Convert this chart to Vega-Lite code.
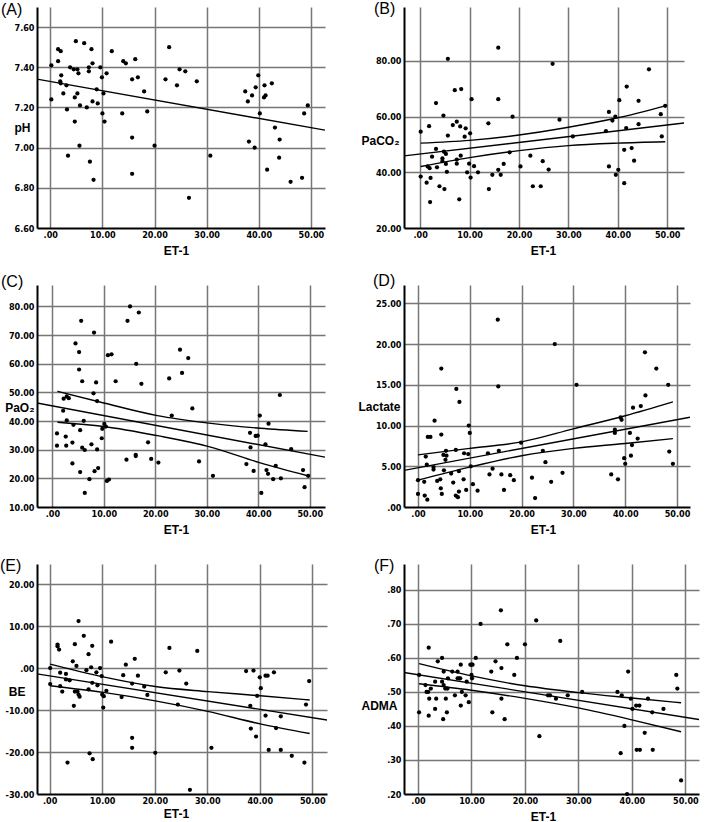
{
  "$schema": "https://vega.github.io/schema/vega-lite/v6.json",
  "padding": {"left": 0, "top": 1, "right": 4, "bottom": 4},
  "background": "white",
  "columns": 2,
  "spacing": {"row": 57, "column": 77},
  "bounds": "flush",
  "align": "each",
  "config": {
    "font": "Liberation Sans",
    "view": {"stroke": null},
    "axis": {
      "grid": true,
      "gridColor": "#767676",
      "gridWidth": 1.5,
      "domainColor": "#000000",
      "domainWidth": 2,
      "ticks": false,
      "labelFont": "Liberation Sans Narrow, DejaVu Sans Condensed, sans-serif",
      "labelFontWeight": "bold",
      "labelFontSize": 9,
      "labelColor": "#000000",
      "labelPadding": 3,
      "titleFont": "Liberation Sans",
      "titleFontWeight": "bold",
      "titleFontSize": 12,
      "titleColor": "#000000"
    },
    "axisX": {"titleX": 139, "titleY": 22, "titleAlign": "center", "titleBaseline": "middle", "labelPadding": 2},
    "axisY": {"titleAngle": 0, "titleAlign": "right", "titleBaseline": "middle"},
    "title": {"anchor": "start", "frame": "group", "fontSize": 16, "fontWeight": "normal", "font": "Liberation Sans", "color": "#000000", "baseline": "alphabetic"}
  },
  "concat": [
    {
      "width": 288, "height": 221,
      "title": {"text": "(A)", "dx": -36, "offset": -11},
      "data": {"values": [
        {"x":0.2,"y":7.41,"s":"pt"},{"x":0.2,"y":7.24,"s":"pt"},{"x":1.5,"y":7.49,"s":"pt"},{"x":1.5,"y":7.43,"s":"pt"},{"x":2.0,"y":7.48,"s":"pt"},{"x":1.9,"y":7.33,"s":"pt"},{"x":2.0,"y":7.32,"s":"pt"},{"x":2.1,"y":7.36,"s":"pt"},{"x":2.5,"y":7.27,"s":"pt"},{"x":3.1,"y":7.31,"s":"pt"},{"x":3.2,"y":7.19,"s":"pt"},{"x":3.4,"y":6.96,"s":"pt"},{"x":3.8,"y":7.40,"s":"pt"},{"x":4.5,"y":7.39,"s":"pt"},{"x":4.7,"y":7.25,"s":"pt"},{"x":4.7,"y":7.13,"s":"pt"},{"x":4.9,"y":7.53,"s":"pt"},{"x":5.2,"y":7.39,"s":"pt"},{"x":5.2,"y":7.27,"s":"pt"},{"x":5.4,"y":7.37,"s":"pt"},{"x":5.7,"y":7.21,"s":"pt"},{"x":5.6,"y":7.01,"s":"pt"},{"x":6.5,"y":7.52,"s":"pt"},{"x":7.0,"y":7.20,"s":"pt"},{"x":7.4,"y":7.38,"s":"pt"},{"x":7.4,"y":7.40,"s":"pt"},{"x":7.6,"y":6.93,"s":"pt"},{"x":7.9,"y":7.49,"s":"pt"},{"x":8.1,"y":7.42,"s":"pt"},{"x":8.1,"y":7.23,"s":"pt"},{"x":8.3,"y":6.84,"s":"pt"},{"x":8.9,"y":7.29,"s":"pt"},{"x":9.1,"y":7.22,"s":"pt"},{"x":9.6,"y":7.40,"s":"pt"},{"x":9.9,"y":7.35,"s":"pt"},{"x":10.0,"y":7.17,"s":"pt"},{"x":10.2,"y":7.27,"s":"pt"},{"x":10.4,"y":7.13,"s":"pt"},{"x":10.8,"y":7.37,"s":"pt"},{"x":11.8,"y":7.48,"s":"pt"},{"x":13.8,"y":7.17,"s":"pt"},{"x":14.0,"y":7.43,"s":"pt"},{"x":14.5,"y":7.42,"s":"pt"},{"x":15.7,"y":7.34,"s":"pt"},{"x":15.7,"y":7.05,"s":"pt"},{"x":15.7,"y":6.87,"s":"pt"},{"x":16.3,"y":7.44,"s":"pt"},{"x":16.8,"y":7.35,"s":"pt"},{"x":18.0,"y":7.28,"s":"pt"},{"x":18.6,"y":7.18,"s":"pt"},{"x":20.0,"y":7.01,"s":"pt"},{"x":22.1,"y":7.34,"s":"pt"},{"x":22.8,"y":7.50,"s":"pt"},{"x":24.3,"y":7.31,"s":"pt"},{"x":24.8,"y":7.39,"s":"pt"},{"x":25.9,"y":7.38,"s":"pt"},{"x":26.6,"y":6.75,"s":"pt"},{"x":28.1,"y":7.33,"s":"pt"},{"x":30.7,"y":6.96,"s":"pt"},{"x":37.4,"y":7.28,"s":"pt"},{"x":37.9,"y":7.23,"s":"pt"},{"x":38.1,"y":7.03,"s":"pt"},{"x":38.7,"y":7.26,"s":"pt"},{"x":39.2,"y":7.00,"s":"pt"},{"x":39.4,"y":7.30,"s":"pt"},{"x":39.9,"y":7.36,"s":"pt"},{"x":40.2,"y":7.17,"s":"pt"},{"x":41.1,"y":7.31,"s":"pt"},{"x":41.0,"y":7.25,"s":"pt"},{"x":41.3,"y":7.26,"s":"pt"},{"x":41.6,"y":6.89,"s":"pt"},{"x":42.5,"y":7.32,"s":"pt"},{"x":43.1,"y":7.10,"s":"pt"},{"x":43.9,"y":6.95,"s":"pt"},{"x":44.0,"y":7.04,"s":"pt"},{"x":46.1,"y":6.83,"s":"pt"},{"x":48.3,"y":6.85,"s":"pt"},{"x":48.7,"y":7.17,"s":"pt"},{"x":49.4,"y":7.21,"s":"pt"},
        {"x":-2.55,"y":7.341,"s":"fit"},{"x":52.7,"y":7.087,"s":"fit"}
      ]},
      "encoding": {
        "x": {"field": "x", "type": "quantitative", "scale": {"domain": [-2.55, 52.7], "nice": false, "zero": false},
              "axis": {"title": "ET-1", "values": [0, 10, 20, 30, 40, 50], "labelExpr": "datum.value == 0 ? '.00' : format(datum.value, '.2f')"}},
        "y": {"field": "y", "type": "quantitative", "scale": {"domain": [6.6, 7.7], "nice": false, "zero": false},
              "axis": {"title": "pH", "titleX": -7, "titleY": 120, "values": [6.6, 6.8, 7.0, 7.2, 7.4, 7.6], "format": ".2f",
                       "gridOpacity": {"condition": {"test": "datum.value < 6.61", "value": 0}, "value": 1}}}
      },
      "layer": [
        {"transform": [{"filter": "datum.s == 'pt'"}], "mark": {"type": "circle", "size": 18, "color": "#000000", "opacity": 1}},
        {"transform": [{"filter": "datum.s != 'pt'"}], "mark": {"type": "line", "color": "#000000", "strokeWidth": 1.4, "interpolate": "monotone", "clip": true}, "encoding": {"detail": {"field": "s"}}}
      ]
    },
    {
      "width": 280, "height": 221,
      "title": {"text": "(B)", "dx": -30, "offset": -10},
      "data": {"values": [
        {"x":0.1,"y":54.6,"s":"pt"},{"x":0.1,"y":38.5,"s":"pt"},{"x":1.3,"y":36.3,"s":"pt"},{"x":1.5,"y":42.1,"s":"pt"},{"x":1.8,"y":56.6,"s":"pt"},{"x":1.9,"y":41.5,"s":"pt"},{"x":2.0,"y":29.3,"s":"pt"},{"x":2.1,"y":38.0,"s":"pt"},{"x":2.4,"y":45.6,"s":"pt"},{"x":3.2,"y":64.9,"s":"pt"},{"x":3.2,"y":48.4,"s":"pt"},{"x":3.4,"y":41.8,"s":"pt"},{"x":3.9,"y":35.0,"s":"pt"},{"x":4.7,"y":60.4,"s":"pt"},{"x":4.5,"y":45.0,"s":"pt"},{"x":4.5,"y":44.0,"s":"pt"},{"x":4.8,"y":47.4,"s":"pt"},{"x":4.9,"y":34.0,"s":"pt"},{"x":5.2,"y":46.6,"s":"pt"},{"x":5.2,"y":43.0,"s":"pt"},{"x":5.4,"y":40.2,"s":"pt"},{"x":5.6,"y":53.2,"s":"pt"},{"x":5.6,"y":80.8,"s":"pt"},{"x":6.6,"y":57.0,"s":"pt"},{"x":7.0,"y":69.5,"s":"pt"},{"x":7.4,"y":58.2,"s":"pt"},{"x":7.4,"y":43.1,"s":"pt"},{"x":7.4,"y":44.6,"s":"pt"},{"x":7.9,"y":30.3,"s":"pt"},{"x":8.1,"y":56.5,"s":"pt"},{"x":8.2,"y":46.0,"s":"pt"},{"x":8.3,"y":69.9,"s":"pt"},{"x":9.0,"y":52.8,"s":"pt"},{"x":9.2,"y":55.8,"s":"pt"},{"x":9.5,"y":40.0,"s":"pt"},{"x":9.9,"y":43.1,"s":"pt"},{"x":10.1,"y":54.0,"s":"pt"},{"x":10.2,"y":38.1,"s":"pt"},{"x":10.4,"y":66.3,"s":"pt"},{"x":10.9,"y":42.2,"s":"pt"},{"x":11.7,"y":40.0,"s":"pt"},{"x":13.8,"y":57.6,"s":"pt"},{"x":13.9,"y":34.0,"s":"pt"},{"x":14.6,"y":39.1,"s":"pt"},{"x":15.8,"y":40.9,"s":"pt"},{"x":15.8,"y":66.3,"s":"pt"},{"x":15.8,"y":84.8,"s":"pt"},{"x":16.3,"y":39.1,"s":"pt"},{"x":16.9,"y":43.0,"s":"pt"},{"x":18.1,"y":47.2,"s":"pt"},{"x":18.7,"y":60.0,"s":"pt"},{"x":20.3,"y":42.1,"s":"pt"},{"x":22.3,"y":46.0,"s":"pt"},{"x":22.8,"y":35.0,"s":"pt"},{"x":24.4,"y":35.0,"s":"pt"},{"x":24.8,"y":44.0,"s":"pt"},{"x":26.0,"y":41.0,"s":"pt"},{"x":26.8,"y":79.0,"s":"pt"},{"x":28.2,"y":58.9,"s":"pt"},{"x":30.9,"y":52.9,"s":"pt"},{"x":37.6,"y":54.8,"s":"pt"},{"x":38.2,"y":61.7,"s":"pt"},{"x":38.2,"y":42.1,"s":"pt"},{"x":38.9,"y":58.6,"s":"pt"},{"x":39.5,"y":60.0,"s":"pt"},{"x":39.6,"y":39.1,"s":"pt"},{"x":40.1,"y":40.9,"s":"pt"},{"x":40.3,"y":65.9,"s":"pt"},{"x":41.3,"y":48.1,"s":"pt"},{"x":41.3,"y":36.1,"s":"pt"},{"x":41.7,"y":55.9,"s":"pt"},{"x":41.8,"y":70.8,"s":"pt"},{"x":42.8,"y":48.7,"s":"pt"},{"x":43.3,"y":44.2,"s":"pt"},{"x":44.2,"y":57.3,"s":"pt"},{"x":44.2,"y":65.7,"s":"pt"},{"x":46.3,"y":77.0,"s":"pt"},{"x":48.7,"y":60.9,"s":"pt"},{"x":48.9,"y":52.9,"s":"pt"},{"x":49.6,"y":63.9,"s":"pt"},
        {"x":-3.28,"y":45.9,"s":"fit"},{"x":53.4,"y":57.7,"s":"fit"},
        {"x":0.1,"y":50.5,"s":"hi"},{"x":10,"y":51.5,"s":"hi"},{"x":20,"y":53.4,"s":"hi"},{"x":30,"y":56.2,"s":"hi"},{"x":40,"y":59.6,"s":"hi"},{"x":49.6,"y":63.9,"s":"hi"},
        {"x":0.1,"y":42.1,"s":"lo"},{"x":10,"y":45.3,"s":"lo"},{"x":20,"y":47.8,"s":"lo"},{"x":30,"y":49.6,"s":"lo"},{"x":40,"y":50.5,"s":"lo"},{"x":49.6,"y":51.0,"s":"lo"}
      ]},
      "encoding": {
        "x": {"field": "x", "type": "quantitative", "scale": {"domain": [-3.28, 53.4], "nice": false, "zero": false},
              "axis": {"title": "ET-1", "values": [0, 10, 20, 30, 40, 50], "labelExpr": "datum.value == 0 ? '.00' : format(datum.value, '.2f')"}},
        "y": {"field": "y", "type": "quantitative", "scale": {"domain": [20, 99.4], "nice": false, "zero": false},
              "axis": {"title": "PaCO₂", "titleX": -5, "titleY": 133, "values": [20, 40, 60, 80], "format": ".2f",
                       "gridOpacity": {"condition": {"test": "datum.value < 20.1", "value": 0}, "value": 1}}}
      },
      "layer": [
        {"transform": [{"filter": "datum.s == 'pt'"}], "mark": {"type": "circle", "size": 18, "color": "#000000", "opacity": 1}},
        {"transform": [{"filter": "datum.s != 'pt'"}], "mark": {"type": "line", "color": "#000000", "strokeWidth": 1.4, "interpolate": "monotone", "clip": true}, "encoding": {"detail": {"field": "s"}}}
      ]
    },
    {
      "width": 288, "height": 222,
      "title": {"text": "(C)", "dx": -36, "offset": -5},
      "data": {"values": [
        {"x":0.9,"y":35.7,"s":"pt"},{"x":0.9,"y":31.4,"s":"pt"},{"x":2.1,"y":43.6,"s":"pt"},{"x":2.2,"y":47.8,"s":"pt"},{"x":2.6,"y":34.6,"s":"pt"},{"x":2.7,"y":31.4,"s":"pt"},{"x":2.8,"y":48.6,"s":"pt"},{"x":2.8,"y":40.2,"s":"pt"},{"x":3.2,"y":48.0,"s":"pt"},{"x":3.9,"y":32.5,"s":"pt"},{"x":3.9,"y":25.2,"s":"pt"},{"x":4.1,"y":38.7,"s":"pt"},{"x":4.5,"y":67.1,"s":"pt"},{"x":5.2,"y":64.1,"s":"pt"},{"x":5.2,"y":58.0,"s":"pt"},{"x":5.4,"y":36.8,"s":"pt"},{"x":5.4,"y":22.2,"s":"pt"},{"x":5.6,"y":75.0,"s":"pt"},{"x":5.8,"y":53.9,"s":"pt"},{"x":5.8,"y":30.7,"s":"pt"},{"x":6.1,"y":40.1,"s":"pt"},{"x":6.3,"y":29.9,"s":"pt"},{"x":6.3,"y":14.9,"s":"pt"},{"x":7.2,"y":19.7,"s":"pt"},{"x":7.6,"y":31.9,"s":"pt"},{"x":8.0,"y":49.7,"s":"pt"},{"x":8.1,"y":70.9,"s":"pt"},{"x":8.2,"y":22.5,"s":"pt"},{"x":8.5,"y":53.5,"s":"pt"},{"x":8.7,"y":47.0,"s":"pt"},{"x":8.7,"y":30.1,"s":"pt"},{"x":8.9,"y":23.6,"s":"pt"},{"x":9.6,"y":34.0,"s":"pt"},{"x":9.7,"y":37.3,"s":"pt"},{"x":10.1,"y":39.0,"s":"pt"},{"x":10.4,"y":38.1,"s":"pt"},{"x":10.6,"y":19.1,"s":"pt"},{"x":10.8,"y":63.0,"s":"pt"},{"x":11.0,"y":19.6,"s":"pt"},{"x":11.5,"y":63.3,"s":"pt"},{"x":12.3,"y":53.9,"s":"pt"},{"x":14.4,"y":26.5,"s":"pt"},{"x":14.6,"y":75.0,"s":"pt"},{"x":15.1,"y":80.0,"s":"pt"},{"x":16.3,"y":60.0,"s":"pt"},{"x":16.2,"y":28.2,"s":"pt"},{"x":16.2,"y":27.8,"s":"pt"},{"x":16.8,"y":77.9,"s":"pt"},{"x":17.3,"y":53.0,"s":"pt"},{"x":18.6,"y":32.6,"s":"pt"},{"x":19.2,"y":26.8,"s":"pt"},{"x":20.6,"y":25.5,"s":"pt"},{"x":22.7,"y":54.9,"s":"pt"},{"x":23.2,"y":41.9,"s":"pt"},{"x":24.8,"y":64.9,"s":"pt"},{"x":25.2,"y":56.8,"s":"pt"},{"x":26.4,"y":62.0,"s":"pt"},{"x":27.2,"y":44.4,"s":"pt"},{"x":28.5,"y":25.9,"s":"pt"},{"x":31.2,"y":20.9,"s":"pt"},{"x":37.7,"y":25.0,"s":"pt"},{"x":38.4,"y":35.9,"s":"pt"},{"x":38.5,"y":30.8,"s":"pt"},{"x":39.1,"y":22.6,"s":"pt"},{"x":39.5,"y":34.8,"s":"pt"},{"x":39.9,"y":34.9,"s":"pt"},{"x":40.3,"y":41.9,"s":"pt"},{"x":40.6,"y":14.9,"s":"pt"},{"x":41.4,"y":31.9,"s":"pt"},{"x":41.6,"y":22.9,"s":"pt"},{"x":41.9,"y":21.6,"s":"pt"},{"x":42.0,"y":39.1,"s":"pt"},{"x":42.9,"y":19.7,"s":"pt"},{"x":43.4,"y":24.4,"s":"pt"},{"x":44.2,"y":49.1,"s":"pt"},{"x":44.4,"y":20.0,"s":"pt"},{"x":46.4,"y":30.2,"s":"pt"},{"x":48.7,"y":22.9,"s":"pt"},{"x":49.0,"y":16.9,"s":"pt"},{"x":49.7,"y":20.9,"s":"pt"},
        {"x":-2.98,"y":46.3,"s":"fit"},{"x":52.97,"y":27.4,"s":"fit"},
        {"x":1.0,"y":50.4,"s":"hi"},{"x":10,"y":46.3,"s":"hi"},{"x":20.4,"y":41.9,"s":"hi"},{"x":30.4,"y":39.3,"s":"hi"},{"x":40.4,"y":37.5,"s":"hi"},{"x":49.6,"y":36.4,"s":"hi"},
        {"x":1.0,"y":39.6,"s":"lo"},{"x":10,"y":38.1,"s":"lo"},{"x":20.4,"y":34.9,"s":"lo"},{"x":30.4,"y":31.1,"s":"lo"},{"x":40.4,"y":25.4,"s":"lo"},{"x":49.6,"y":20.9,"s":"lo"}
      ]},
      "encoding": {
        "x": {"field": "x", "type": "quantitative", "scale": {"domain": [-2.98, 52.97], "nice": false, "zero": false},
              "axis": {"title": "ET-1", "values": [0, 10, 20, 30, 40, 50], "labelExpr": "datum.value == 0 ? '.00' : format(datum.value, '.2f')"}},
        "y": {"field": "y", "type": "quantitative", "scale": {"domain": [10, 87.5], "nice": false, "zero": false},
              "axis": {"title": "PaO₂", "titleX": -3, "titleY": 122, "values": [10, 20, 30, 40, 50, 60, 70, 80], "format": ".2f",
                       "gridOpacity": {"condition": {"test": "datum.value < 10.1", "value": 0}, "value": 1}}}
      },
      "layer": [
        {"transform": [{"filter": "datum.s == 'pt'"}], "mark": {"type": "circle", "size": 18, "color": "#000000", "opacity": 1}},
        {"transform": [{"filter": "datum.s != 'pt'"}], "mark": {"type": "line", "color": "#000000", "strokeWidth": 1.4, "interpolate": "monotone", "clip": true}, "encoding": {"detail": {"field": "s"}}}
      ]
    },
    {
      "width": 286, "height": 222,
      "title": {"text": "(D)", "dx": -31, "offset": -4},
      "data": {"values": [
        {"x":0.0,"y":3.3,"s":"pt"},{"x":0.0,"y":1.6,"s":"pt"},{"x":1.2,"y":3.1,"s":"pt"},{"x":1.3,"y":1.4,"s":"pt"},{"x":1.5,"y":6.2,"s":"pt"},{"x":1.7,"y":5.2,"s":"pt"},{"x":1.8,"y":0.9,"s":"pt"},{"x":1.9,"y":8.6,"s":"pt"},{"x":2.4,"y":8.6,"s":"pt"},{"x":3.0,"y":4.9,"s":"pt"},{"x":3.0,"y":4.6,"s":"pt"},{"x":3.2,"y":10.6,"s":"pt"},{"x":3.7,"y":3.2,"s":"pt"},{"x":4.3,"y":3.4,"s":"pt"},{"x":4.4,"y":2.3,"s":"pt"},{"x":4.5,"y":8.9,"s":"pt"},{"x":4.5,"y":17.0,"s":"pt"},{"x":4.6,"y":1.6,"s":"pt"},{"x":5.0,"y":4.5,"s":"pt"},{"x":4.9,"y":6.4,"s":"pt"},{"x":5.3,"y":5.8,"s":"pt"},{"x":5.4,"y":6.9,"s":"pt"},{"x":5.5,"y":6.3,"s":"pt"},{"x":6.4,"y":4.1,"s":"pt"},{"x":6.8,"y":3.0,"s":"pt"},{"x":7.3,"y":7.0,"s":"pt"},{"x":7.3,"y":1.4,"s":"pt"},{"x":7.4,"y":14.5,"s":"pt"},{"x":7.7,"y":1.2,"s":"pt"},{"x":7.9,"y":1.9,"s":"pt"},{"x":7.9,"y":4.4,"s":"pt"},{"x":8.0,"y":12.9,"s":"pt"},{"x":8.8,"y":3.4,"s":"pt"},{"x":8.9,"y":6.6,"s":"pt"},{"x":9.3,"y":2.1,"s":"pt"},{"x":9.7,"y":6.5,"s":"pt"},{"x":9.8,"y":10.0,"s":"pt"},{"x":10.0,"y":9.1,"s":"pt"},{"x":10.2,"y":5.0,"s":"pt"},{"x":10.6,"y":2.8,"s":"pt"},{"x":11.5,"y":2.0,"s":"pt"},{"x":13.5,"y":6.6,"s":"pt"},{"x":13.8,"y":4.0,"s":"pt"},{"x":14.4,"y":4.7,"s":"pt"},{"x":15.4,"y":23.0,"s":"pt"},{"x":15.5,"y":14.8,"s":"pt"},{"x":15.6,"y":6.9,"s":"pt"},{"x":16.1,"y":4.0,"s":"pt"},{"x":16.6,"y":2.1,"s":"pt"},{"x":17.8,"y":3.9,"s":"pt"},{"x":18.5,"y":3.3,"s":"pt"},{"x":19.9,"y":7.9,"s":"pt"},{"x":22.0,"y":3.6,"s":"pt"},{"x":22.6,"y":1.1,"s":"pt"},{"x":24.1,"y":6.9,"s":"pt"},{"x":24.6,"y":5.5,"s":"pt"},{"x":25.7,"y":3.1,"s":"pt"},{"x":26.4,"y":20.0,"s":"pt"},{"x":27.9,"y":4.2,"s":"pt"},{"x":30.6,"y":15.0,"s":"pt"},{"x":37.3,"y":4.0,"s":"pt"},{"x":38.0,"y":9.5,"s":"pt"},{"x":38.0,"y":9.1,"s":"pt"},{"x":38.6,"y":3.4,"s":"pt"},{"x":39.1,"y":11.0,"s":"pt"},{"x":39.3,"y":10.7,"s":"pt"},{"x":39.8,"y":6.0,"s":"pt"},{"x":40.0,"y":5.3,"s":"pt"},{"x":40.9,"y":9.1,"s":"pt"},{"x":41.1,"y":6.3,"s":"pt"},{"x":41.3,"y":7.6,"s":"pt"},{"x":41.5,"y":12.2,"s":"pt"},{"x":42.4,"y":8.4,"s":"pt"},{"x":43.0,"y":12.4,"s":"pt"},{"x":43.8,"y":19.0,"s":"pt"},{"x":43.9,"y":13.7,"s":"pt"},{"x":46.0,"y":17.0,"s":"pt"},{"x":48.3,"y":15.0,"s":"pt"},{"x":48.5,"y":6.8,"s":"pt"},{"x":49.2,"y":5.3,"s":"pt"},
        {"x":-2.7,"y":4.5,"s":"fit"},{"x":52.5,"y":11.03,"s":"fit"},
        {"x":0,"y":6.4,"s":"hi"},{"x":10,"y":7.2,"s":"hi"},{"x":20,"y":8.0,"s":"hi"},{"x":30,"y":9.6,"s":"hi"},{"x":40,"y":11.2,"s":"hi"},{"x":49.2,"y":12.9,"s":"hi"},
        {"x":0,"y":3.3,"s":"lo"},{"x":10,"y":4.9,"s":"lo"},{"x":20,"y":6.3,"s":"lo"},{"x":30,"y":7.2,"s":"lo"},{"x":40,"y":7.8,"s":"lo"},{"x":49.2,"y":8.4,"s":"lo"}
      ]},
      "encoding": {
        "x": {"field": "x", "type": "quantitative", "scale": {"domain": [-2.7, 52.5], "nice": false, "zero": false},
              "axis": {"title": "ET-1", "values": [0, 10, 20, 30, 40, 50], "labelExpr": "datum.value == 0 ? '.00' : format(datum.value, '.2f')"}},
        "y": {"field": "y", "type": "quantitative", "scale": {"domain": [0, 27.26], "nice": false, "zero": false},
              "axis": {"title": "Lactate", "titleX": -4, "titleY": 121, "values": [0, 5, 10, 15, 20, 25], "labelExpr": "datum.value == 0 ? '.00' : format(datum.value, '.2f')",
                       "gridOpacity": {"condition": {"test": "datum.value < 0.1", "value": 0}, "value": 1}}}
      },
      "layer": [
        {"transform": [{"filter": "datum.s == 'pt'"}], "mark": {"type": "circle", "size": 18, "color": "#000000", "opacity": 1}},
        {"transform": [{"filter": "datum.s != 'pt'"}], "mark": {"type": "line", "color": "#000000", "strokeWidth": 1.4, "interpolate": "monotone", "clip": true}, "encoding": {"detail": {"field": "s"}}}
      ]
    },
    {
      "width": 290, "height": 230,
      "title": {"text": "(E)", "dx": -37, "offset": -10},
      "data": {"values": [
        {"x":0.1,"y":0.0,"s":"pt"},{"x":0.1,"y":-3.8,"s":"pt"},{"x":1.5,"y":5.6,"s":"pt"},{"x":1.5,"y":5.2,"s":"pt"},{"x":1.8,"y":4.4,"s":"pt"},{"x":2.0,"y":-1.1,"s":"pt"},{"x":2.0,"y":-4.3,"s":"pt"},{"x":2.4,"y":-5.6,"s":"pt"},{"x":3.1,"y":-1.4,"s":"pt"},{"x":3.1,"y":-2.7,"s":"pt"},{"x":3.4,"y":-22.5,"s":"pt"},{"x":3.8,"y":-2.9,"s":"pt"},{"x":4.4,"y":1.6,"s":"pt"},{"x":4.6,"y":-9.0,"s":"pt"},{"x":4.8,"y":5.7,"s":"pt"},{"x":4.8,"y":-5.6,"s":"pt"},{"x":5.1,"y":0.5,"s":"pt"},{"x":5.3,"y":-5.6,"s":"pt"},{"x":5.5,"y":11.2,"s":"pt"},{"x":5.5,"y":-6.3,"s":"pt"},{"x":5.7,"y":-6.8,"s":"pt"},{"x":6.5,"y":7.7,"s":"pt"},{"x":7.0,"y":-0.5,"s":"pt"},{"x":7.4,"y":3.3,"s":"pt"},{"x":7.4,"y":-5.1,"s":"pt"},{"x":7.6,"y":-20.3,"s":"pt"},{"x":7.9,"y":0.2,"s":"pt"},{"x":8.1,"y":5.3,"s":"pt"},{"x":8.1,"y":-3.5,"s":"pt"},{"x":8.2,"y":-21.7,"s":"pt"},{"x":8.9,"y":-1.0,"s":"pt"},{"x":9.1,"y":-4.1,"s":"pt"},{"x":9.6,"y":0.0,"s":"pt"},{"x":9.9,"y":-1.9,"s":"pt"},{"x":10.0,"y":-6.3,"s":"pt"},{"x":10.2,"y":-9.4,"s":"pt"},{"x":10.3,"y":-6.7,"s":"pt"},{"x":10.8,"y":-5.4,"s":"pt"},{"x":11.7,"y":6.3,"s":"pt"},{"x":13.7,"y":-6.9,"s":"pt"},{"x":14.0,"y":-1.7,"s":"pt"},{"x":14.5,"y":0.8,"s":"pt"},{"x":15.7,"y":-3.7,"s":"pt"},{"x":15.7,"y":-16.6,"s":"pt"},{"x":15.7,"y":-19.0,"s":"pt"},{"x":16.2,"y":2.2,"s":"pt"},{"x":16.8,"y":-1.8,"s":"pt"},{"x":18.0,"y":-4.4,"s":"pt"},{"x":18.6,"y":-6.4,"s":"pt"},{"x":20.1,"y":-20.2,"s":"pt"},{"x":22.1,"y":-1.0,"s":"pt"},{"x":22.8,"y":4.8,"s":"pt"},{"x":24.4,"y":-8.7,"s":"pt"},{"x":24.7,"y":-0.6,"s":"pt"},{"x":26.0,"y":-3.7,"s":"pt"},{"x":26.7,"y":-29.0,"s":"pt"},{"x":28.1,"y":4.1,"s":"pt"},{"x":30.8,"y":-19.0,"s":"pt"},{"x":37.4,"y":-0.7,"s":"pt"},{"x":38.2,"y":-9.0,"s":"pt"},{"x":38.3,"y":-14.4,"s":"pt"},{"x":38.8,"y":-0.6,"s":"pt"},{"x":39.3,"y":-16.3,"s":"pt"},{"x":39.5,"y":-6.6,"s":"pt"},{"x":40.0,"y":-2.2,"s":"pt"},{"x":40.2,"y":-4.8,"s":"pt"},{"x":41.1,"y":-1.8,"s":"pt"},{"x":41.1,"y":-11.3,"s":"pt"},{"x":41.5,"y":-1.8,"s":"pt"},{"x":41.7,"y":-19.5,"s":"pt"},{"x":42.7,"y":-1.0,"s":"pt"},{"x":43.1,"y":-14.3,"s":"pt"},{"x":44.0,"y":-11.5,"s":"pt"},{"x":44.0,"y":-19.5,"s":"pt"},{"x":46.1,"y":-20.9,"s":"pt"},{"x":48.5,"y":-22.5,"s":"pt"},{"x":48.8,"y":-8.7,"s":"pt"},{"x":49.4,"y":-3.1,"s":"pt"},
        {"x":-2.41,"y":-1.37,"s":"fit"},{"x":52.8,"y":-12.38,"s":"fit"},
        {"x":0.1,"y":0.95,"s":"hi"},{"x":10.2,"y":-2.1,"s":"hi"},{"x":20.1,"y":-4.4,"s":"hi"},{"x":30.1,"y":-5.6,"s":"hi"},{"x":40.1,"y":-6.6,"s":"hi"},{"x":49.5,"y":-7.6,"s":"hi"},
        {"x":0.1,"y":-4.2,"s":"lo"},{"x":10.2,"y":-5.8,"s":"lo"},{"x":20.1,"y":-7.8,"s":"lo"},{"x":30.1,"y":-10.3,"s":"lo"},{"x":40.1,"y":-13.3,"s":"lo"},{"x":49.5,"y":-15.6,"s":"lo"}
      ]},
      "encoding": {
        "x": {"field": "x", "type": "quantitative", "scale": {"domain": [-2.41, 52.8], "nice": false, "zero": false},
              "axis": {"title": "ET-1", "titleY": 19, "values": [0, 10, 20, 30, 40, 50], "labelExpr": "datum.value == 0 ? '.00' : format(datum.value, '.2f')"}},
        "y": {"field": "y", "type": "quantitative", "scale": {"domain": [-30, 24.8], "nice": false, "zero": false},
              "axis": {"title": "BE", "titleX": -12, "titleY": 127, "values": [-30, -20, -10, 0, 10, 20], "labelExpr": "datum.value == 0 ? '.00' : replace(format(datum.value, '.2f'), '−', '-')",
                       "gridOpacity": {"condition": {"test": "datum.value < -29.9", "value": 0}, "value": 1}}}
      },
      "layer": [
        {"transform": [{"filter": "datum.s == 'pt'"}], "mark": {"type": "circle", "size": 18, "color": "#000000", "opacity": 1}},
        {"transform": [{"filter": "datum.s != 'pt'"}], "mark": {"type": "line", "color": "#000000", "strokeWidth": 1.4, "interpolate": "monotone", "clip": true}, "encoding": {"detail": {"field": "s"}}}
      ]
    },
    {
      "width": 295, "height": 230,
      "title": {"text": "(F)", "dx": -30, "offset": -10},
      "data": {"values": [
        {"x":0.2,"y":0.55,"s":"pt"},{"x":0.2,"y":0.44,"s":"pt"},{"x":1.4,"y":0.52,"s":"pt"},{"x":1.6,"y":0.50,"s":"pt"},{"x":1.9,"y":0.50,"s":"pt"},{"x":2.0,"y":0.63,"s":"pt"},{"x":2.0,"y":0.43,"s":"pt"},{"x":2.1,"y":0.48,"s":"pt"},{"x":2.4,"y":0.51,"s":"pt"},{"x":3.2,"y":0.53,"s":"pt"},{"x":3.2,"y":0.45,"s":"pt"},{"x":3.4,"y":0.48,"s":"pt"},{"x":3.7,"y":0.59,"s":"pt"},{"x":4.5,"y":0.60,"s":"pt"},{"x":4.5,"y":0.53,"s":"pt"},{"x":4.7,"y":0.42,"s":"pt"},{"x":4.8,"y":0.56,"s":"pt"},{"x":4.8,"y":0.52,"s":"pt"},{"x":5.1,"y":0.51,"s":"pt"},{"x":5.2,"y":0.48,"s":"pt"},{"x":5.5,"y":0.51,"s":"pt"},{"x":5.4,"y":0.44,"s":"pt"},{"x":5.6,"y":0.54,"s":"pt"},{"x":6.4,"y":0.56,"s":"pt"},{"x":6.9,"y":0.49,"s":"pt"},{"x":7.4,"y":0.56,"s":"pt"},{"x":7.4,"y":0.54,"s":"pt"},{"x":7.7,"y":0.54,"s":"pt"},{"x":7.9,"y":0.54,"s":"pt"},{"x":8.0,"y":0.46,"s":"pt"},{"x":8.0,"y":0.58,"s":"pt"},{"x":8.2,"y":0.50,"s":"pt"},{"x":8.9,"y":0.49,"s":"pt"},{"x":9.1,"y":0.53,"s":"pt"},{"x":9.5,"y":0.47,"s":"pt"},{"x":9.8,"y":0.58,"s":"pt"},{"x":10.0,"y":0.58,"s":"pt"},{"x":10.0,"y":0.55,"s":"pt"},{"x":10.1,"y":0.54,"s":"pt"},{"x":10.2,"y":0.58,"s":"pt"},{"x":10.8,"y":0.60,"s":"pt"},{"x":11.7,"y":0.70,"s":"pt"},{"x":13.7,"y":0.56,"s":"pt"},{"x":13.9,"y":0.44,"s":"pt"},{"x":14.5,"y":0.59,"s":"pt"},{"x":15.5,"y":0.74,"s":"pt"},{"x":15.6,"y":0.57,"s":"pt"},{"x":15.6,"y":0.48,"s":"pt"},{"x":16.2,"y":0.42,"s":"pt"},{"x":16.7,"y":0.64,"s":"pt"},{"x":18.0,"y":0.55,"s":"pt"},{"x":18.5,"y":0.60,"s":"pt"},{"x":20.0,"y":0.64,"s":"pt"},{"x":22.1,"y":0.71,"s":"pt"},{"x":22.7,"y":0.37,"s":"pt"},{"x":24.3,"y":0.49,"s":"pt"},{"x":24.7,"y":0.49,"s":"pt"},{"x":25.8,"y":0.48,"s":"pt"},{"x":26.6,"y":0.65,"s":"pt"},{"x":28.0,"y":0.49,"s":"pt"},{"x":30.7,"y":0.50,"s":"pt"},{"x":37.3,"y":0.50,"s":"pt"},{"x":37.9,"y":0.32,"s":"pt"},{"x":38.1,"y":0.49,"s":"pt"},{"x":38.6,"y":0.40,"s":"pt"},{"x":39.1,"y":0.20,"s":"pt"},{"x":39.3,"y":0.56,"s":"pt"},{"x":39.8,"y":0.48,"s":"pt"},{"x":40.1,"y":0.45,"s":"pt"},{"x":40.8,"y":0.46,"s":"pt"},{"x":40.9,"y":0.33,"s":"pt"},{"x":41.4,"y":0.46,"s":"pt"},{"x":41.5,"y":0.33,"s":"pt"},{"x":42.4,"y":0.38,"s":"pt"},{"x":43.0,"y":0.48,"s":"pt"},{"x":43.8,"y":0.44,"s":"pt"},{"x":43.9,"y":0.33,"s":"pt"},{"x":45.9,"y":0.45,"s":"pt"},{"x":48.3,"y":0.55,"s":"pt"},{"x":48.5,"y":0.51,"s":"pt"},{"x":49.2,"y":0.24,"s":"pt"},
        {"x":-2.62,"y":0.557,"s":"fit"},{"x":52.55,"y":0.419,"s":"fit"},
        {"x":0.2,"y":0.583,"s":"hi"},{"x":10,"y":0.547,"s":"hi"},{"x":20,"y":0.518,"s":"hi"},{"x":30,"y":0.498,"s":"hi"},{"x":40,"y":0.482,"s":"hi"},{"x":49.2,"y":0.468,"s":"hi"},
        {"x":0.2,"y":0.524,"s":"lo"},{"x":10,"y":0.505,"s":"lo"},{"x":20,"y":0.481,"s":"lo"},{"x":30,"y":0.453,"s":"lo"},{"x":40,"y":0.418,"s":"lo"},{"x":49.2,"y":0.383,"s":"lo"}
      ]},
      "encoding": {
        "x": {"field": "x", "type": "quantitative", "scale": {"domain": [-2.62, 52.55], "nice": false, "zero": false},
              "axis": {"title": "ET-1", "values": [0, 10, 20, 30, 40, 50], "labelExpr": "datum.value == 0 ? '.00' : format(datum.value, '.2f')"}},
        "y": {"field": "y", "type": "quantitative", "scale": {"domain": [0.2, 0.876], "nice": false, "zero": false},
              "axis": {"title": "ADMA", "titleX": -7, "titleY": 141, "values": [0.2, 0.3, 0.4, 0.5, 0.6, 0.7, 0.8], "labelExpr": "substring(format(datum.value, '.2f'), 1)",
                       "gridOpacity": {"condition": {"test": "datum.value < 0.21", "value": 0}, "value": 1}}}
      },
      "layer": [
        {"transform": [{"filter": "datum.s == 'pt'"}], "mark": {"type": "circle", "size": 18, "color": "#000000", "opacity": 1}},
        {"transform": [{"filter": "datum.s != 'pt'"}], "mark": {"type": "line", "color": "#000000", "strokeWidth": 1.4, "interpolate": "monotone", "clip": true}, "encoding": {"detail": {"field": "s"}}}
      ]
    }
  ]
}
